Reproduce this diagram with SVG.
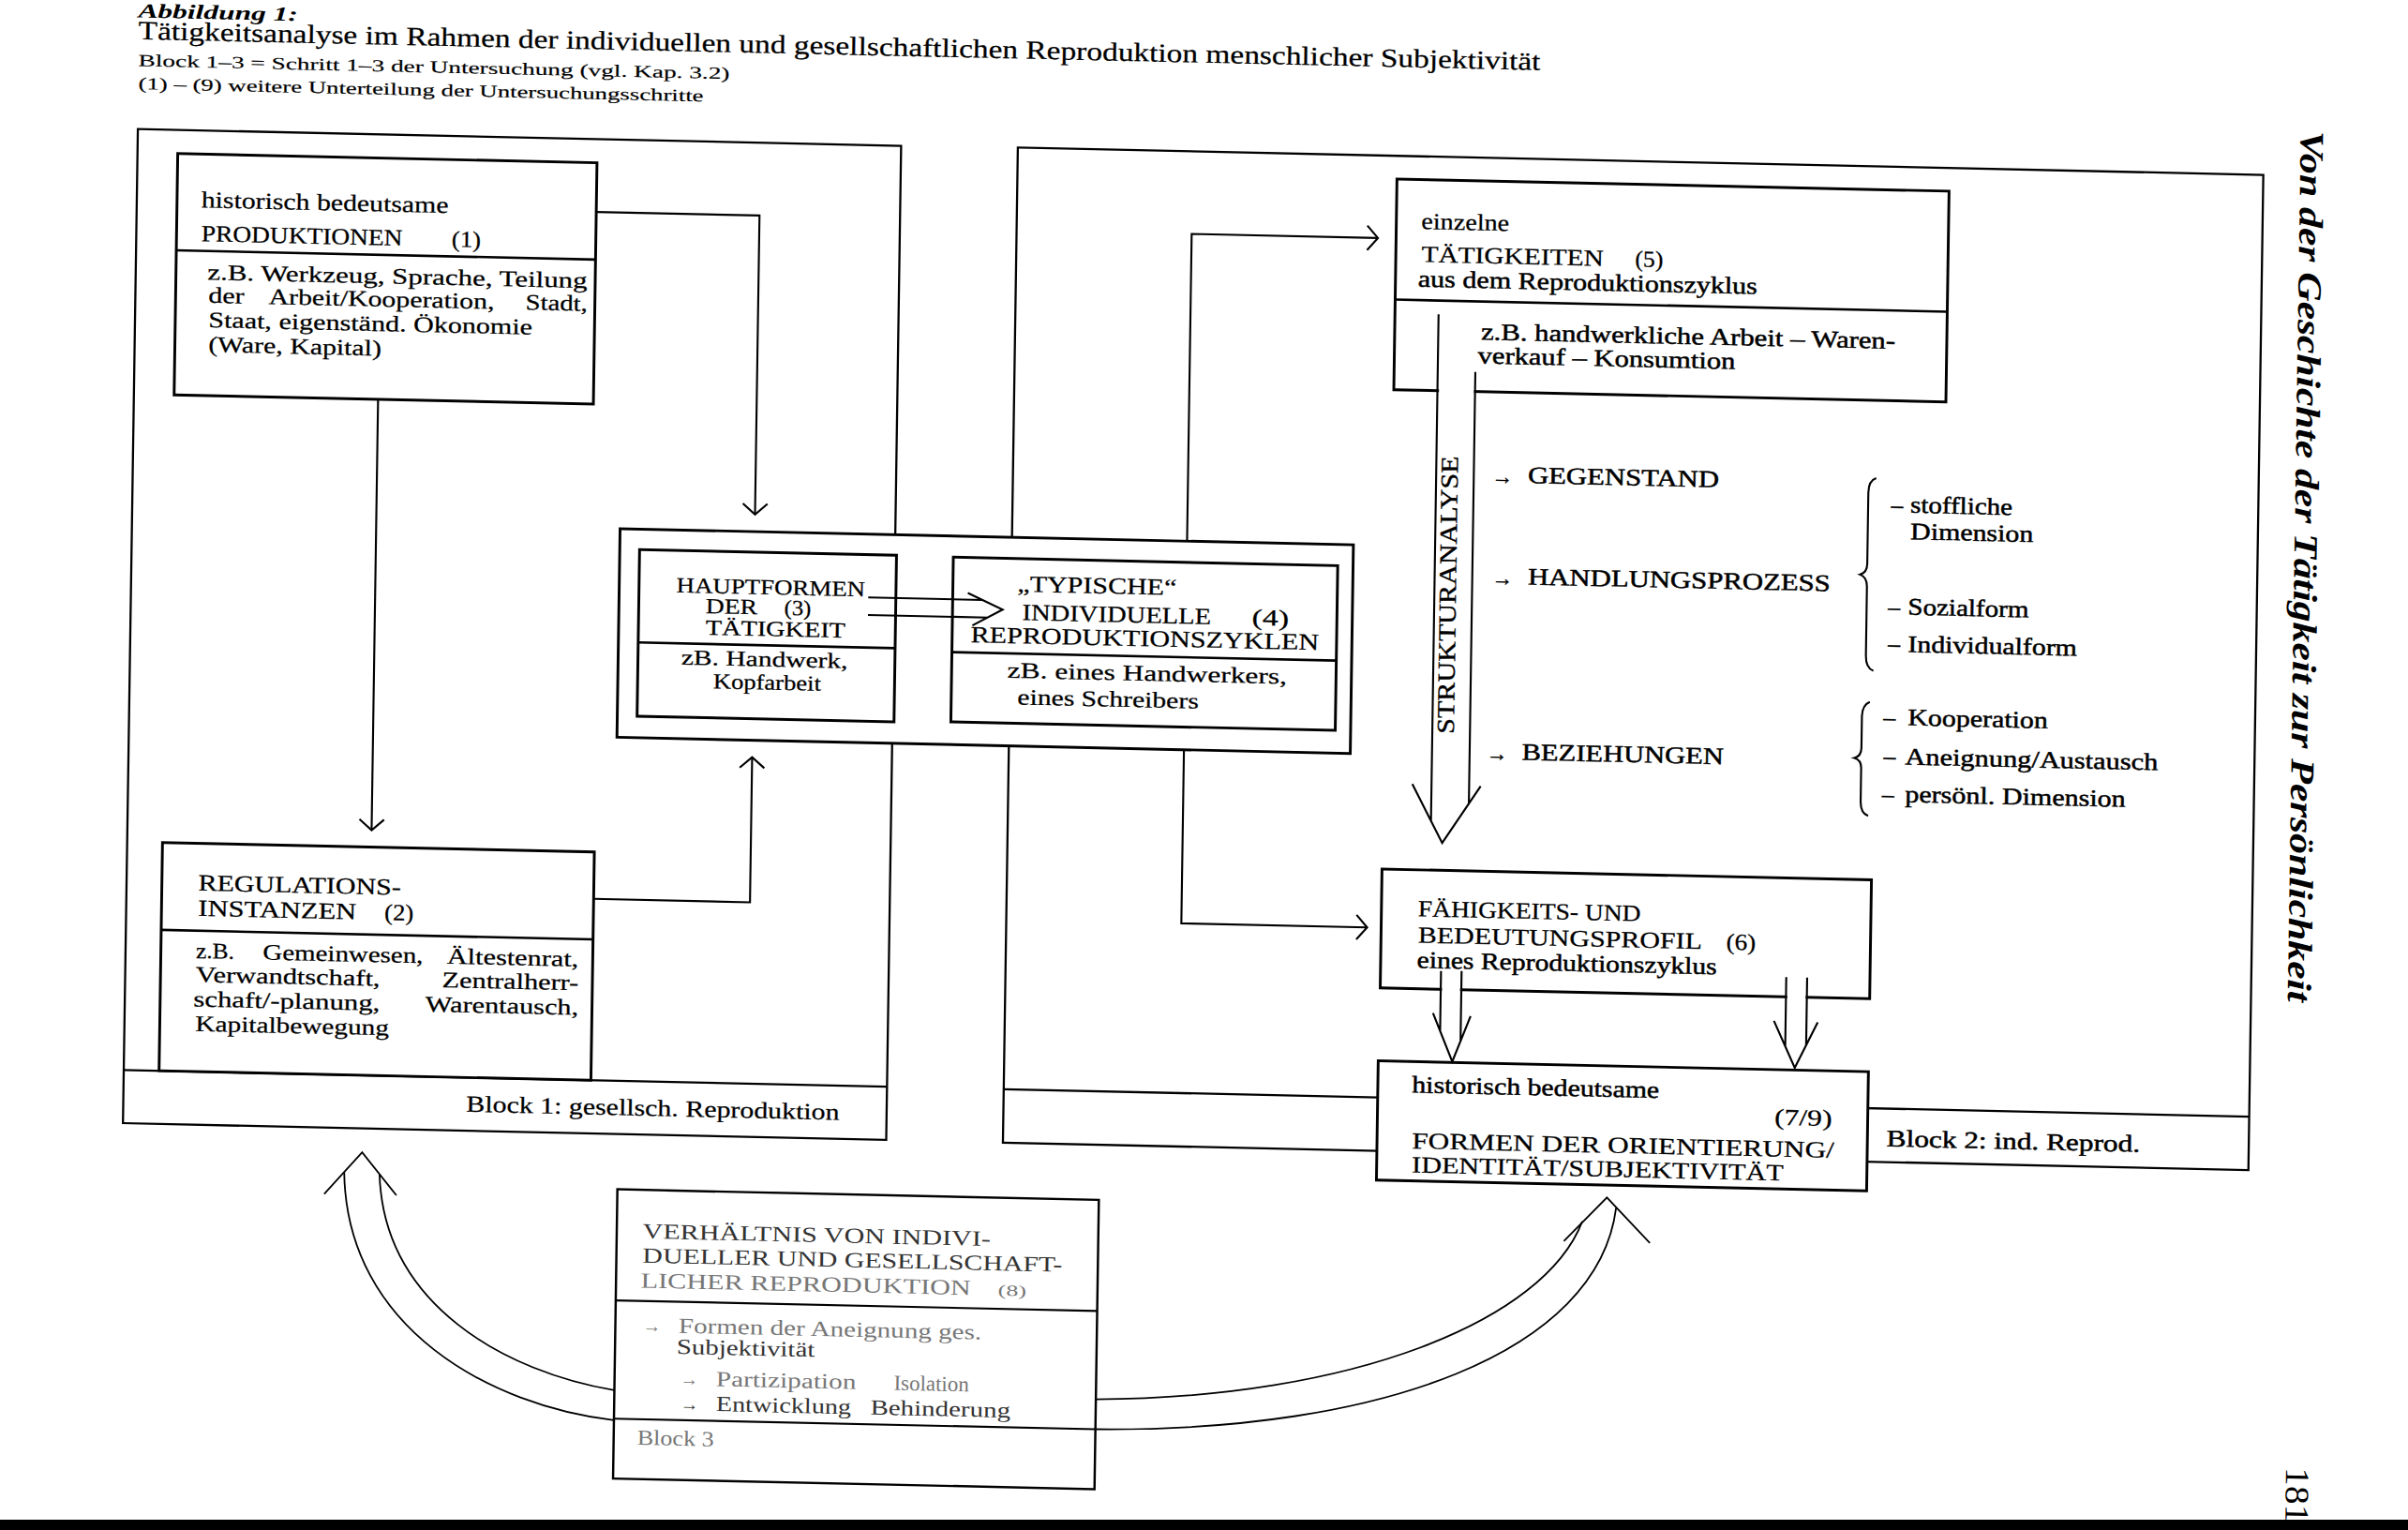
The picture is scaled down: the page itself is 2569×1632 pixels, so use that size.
<svg xmlns="http://www.w3.org/2000/svg" width="2569" height="1632" viewBox="0 0 2569 1632">
<defs>
<style>
text{font-family:"Liberation Serif","Times New Roman",serif;fill:#000}
.box{fill:#fff;stroke:#000;stroke-width:1.8}
.frame{fill:none;stroke:#000;stroke-width:1.4}
.ln{fill:none;stroke:#000;stroke-width:1.6}
.c{fill:none;stroke:#000;stroke-width:1.3}
.thin{fill:none;stroke:#000;stroke-width:1.1}
.mask{fill:#fff;stroke:none}
.h{font-size:15px;stroke:#000;stroke-width:0.15}
.hs{font-size:14px;stroke:#000;stroke-width:0.15}
.s{font-size:14.5px;stroke:#000;stroke-width:0.15}
.r{font-size:15.5px;stroke:#000;stroke-width:0.3}
.ar{font-size:14px;stroke:#000;stroke-width:0.2}
.f{font-size:14px;fill:#333}
.fl{font-size:14px;fill:#777}
.ti{font-size:17px;stroke:#000;stroke-width:0.15}
.sub{font-size:11px;stroke:#000;stroke-width:0.1}
.hd{font-size:22px;font-weight:bold;font-style:italic}
</style>
<marker id="chev" markerUnits="userSpaceOnUse" markerWidth="20" markerHeight="20" viewBox="-10 -10 20 20" refX="0" refY="0" orient="auto">
<path d="M-7,-8 L0,0 L-7,8" fill="none" stroke="#000" stroke-width="1.3"/>
</marker>
</defs>
<rect width="2569" height="1632" fill="#fff"/>
<g transform="scale(1.6384) matrix(1,0.022,-0.015,1,0,0)">

<g id="title">
<text x="90.1" y="9.3" style="font-size:13px;font-weight:bold;font-style:italic" textLength="104" lengthAdjust="spacingAndGlyphs">Abbildung 1:</text>
<text class="ti" x="90.4" y="23.5" textLength="913" lengthAdjust="spacingAndGlyphs">Tätigkeitsanalyse im Rahmen der individuellen und gesellschaftlichen Reproduktion menschlicher Subjektivität</text>
<text class="sub" x="90.7" y="41" textLength="385" lengthAdjust="spacingAndGlyphs">Block 1–3 = Schritt 1–3 der Untersuchung (vgl. Kap. 3.2)</text>
<text class="sub" x="90.9" y="56" textLength="368" lengthAdjust="spacingAndGlyphs">(1) – (9) weitere Unterteilung der Untersuchungsschritte</text>
</g>

<g id="block1">
<rect class="frame" x="91" y="82" width="497" height="647.2"/>
<line class="frame" x1="91" y1="694.6" x2="588" y2="694.6"/>
<text class="h" x="314.3" y="716.8" textLength="243" lengthAdjust="spacingAndGlyphs">Block 1: gesellsch. Reproduktion</text>
</g>

<g id="block2">
<rect class="frame" x="664" y="81.4" width="811" height="647.9"/>
<line class="frame" x1="664" y1="694.5" x2="1475" y2="694.5"/>
<text class="r" x="1239.2" y="719" textLength="165" lengthAdjust="spacingAndGlyphs">Block 2: ind. Reprod.</text>
</g>

<g id="produktionen">
<rect class="box" x="117.2" y="97.4" width="273" height="157.1"/>
<line class="ln" x1="117.2" y1="160.4" x2="390.2" y2="160.4"/>
<text class="h" x="133" y="132.1" textLength="161" lengthAdjust="spacingAndGlyphs">historisch bedeutsame</text>
<text class="h" x="133.4" y="154.1" textLength="131" lengthAdjust="spacingAndGlyphs">PRODUKTIONEN</text>
<text class="h" x="296.4" y="154.1" textLength="19" lengthAdjust="spacingAndGlyphs">(1)</text>
<text class="s" x="137.7" y="179" textLength="247.4" lengthAdjust="spacingAndGlyphs">z.B. Werkzeug, Sprache, Teilung</text>
<text class="s" x="138.5" y="194" textLength="23.4" lengthAdjust="spacingAndGlyphs">der</text>
<text class="s" x="177.8" y="194" textLength="147" lengthAdjust="spacingAndGlyphs">Arbeit/Kooperation,</text>
<text class="s" x="345" y="194" textLength="40.4" lengthAdjust="spacingAndGlyphs">Stadt,</text>
<text class="s" x="138.8" y="210" textLength="211" lengthAdjust="spacingAndGlyphs">Staat, eigenständ. Ökonomie</text>
<text class="s" x="139" y="226" textLength="112.7" lengthAdjust="spacingAndGlyphs">(Ware, Kapital)</text>
</g>

<g id="regulationsinstanzen">
<rect class="box" x="114" y="546" width="281.2" height="148.6"/>
<line class="ln" x1="114" y1="602.9" x2="395.2" y2="602.9"/>
<text class="h" x="137.7" y="576.7" textLength="132" lengthAdjust="spacingAndGlyphs">REGULATIONS-</text>
<text class="h" x="137.9" y="593.2" textLength="103" lengthAdjust="spacingAndGlyphs">INSTANZEN</text>
<text class="h" x="259.2" y="593.2" textLength="19" lengthAdjust="spacingAndGlyphs">(2)</text>
<text class="s" x="136.8" y="620.7" textLength="25" lengthAdjust="spacingAndGlyphs">z.B.</text>
<text class="s" x="180.4" y="620.7" textLength="104.4" lengthAdjust="spacingAndGlyphs">Gemeinwesen,</text>
<text class="s" x="300.3" y="620.7" textLength="85.7" lengthAdjust="spacingAndGlyphs">Ältestenrat,</text>
<text class="s" x="137" y="636.2" textLength="120" lengthAdjust="spacingAndGlyphs">Verwandtschaft,</text>
<text class="s" x="297.4" y="636.2" textLength="88.8" lengthAdjust="spacingAndGlyphs">Zentralherr-</text>
<text class="s" x="135.7" y="652.2" textLength="121.4" lengthAdjust="spacingAndGlyphs">schaft/-planung,</text>
<text class="s" x="286.8" y="652.2" textLength="99.6" lengthAdjust="spacingAndGlyphs">Warentausch,</text>
<text class="s" x="137.2" y="668.2" textLength="126" lengthAdjust="spacingAndGlyphs">Kapitalbewegung</text>
</g>

<g id="zentrum">
<rect class="box" x="408.8" y="335.2" width="477.5" height="135.8"/>
</g>

<g id="hauptformen">
<rect class="box" x="421.7" y="348.5" width="167.3" height="108.5"/>
<line class="ln" x1="421.7" y1="409" x2="589" y2="409"/>
<text class="hs" x="446" y="375.8" textLength="123" lengthAdjust="spacingAndGlyphs">HAUPTFORMEN</text>
<text class="hs" x="465.3" y="388.9" textLength="33.6" lengthAdjust="spacingAndGlyphs">DER</text>
<text class="hs" x="516.4" y="388.9" textLength="17.6" lengthAdjust="spacingAndGlyphs">(3)</text>
<text class="hs" x="465.5" y="402.9" textLength="91" lengthAdjust="spacingAndGlyphs">TÄTIGKEIT</text>
<text class="hs" x="449.9" y="422.7" textLength="108.5" lengthAdjust="spacingAndGlyphs">zB. Handwerk,</text>
<text class="hs" x="470.9" y="437.8" textLength="70.2" lengthAdjust="spacingAndGlyphs">Kopfarbeit</text>
</g>

<g id="typische-zyklen">
<rect class="box" x="626" y="349" width="250.3" height="107.2"/>
<line class="ln" x1="626" y1="410.8" x2="876.3" y2="410.8"/>
<text class="h" x="668" y="370.4" textLength="103.7" lengthAdjust="spacingAndGlyphs">„TYPISCHE“</text>
<text class="h" x="671.4" y="388.9" textLength="123" lengthAdjust="spacingAndGlyphs">INDIVIDUELLE</text>
<text class="h" x="821" y="388.9" textLength="24" lengthAdjust="spacingAndGlyphs">(4)</text>
<text class="h" x="638.1" y="404.1" textLength="226.7" lengthAdjust="spacingAndGlyphs">REPRODUKTIONSZYKLEN</text>
<text class="s" x="662.3" y="426.6" textLength="182" lengthAdjust="spacingAndGlyphs">zB. eines Handwerkers,</text>
<text class="s" x="669.1" y="443.9" textLength="118" lengthAdjust="spacingAndGlyphs">eines Schreibers</text>
</g>

<g id="taetigkeiten">
<rect class="box" x="911.1" y="96.5" width="359.5" height="137.2"/>
<line class="ln" x1="911.1" y1="175" x2="1270.6" y2="175"/>
<text class="h" x="927.4" y="128.6" textLength="57.2" lengthAdjust="spacingAndGlyphs">einzelne</text>
<text class="h" x="927.8" y="150.1" textLength="118.6" lengthAdjust="spacingAndGlyphs">TÄTIGKEITEN</text>
<text class="h" x="1066.8" y="150.1" textLength="18.4" lengthAdjust="spacingAndGlyphs">(5)</text>
<text class="r" x="925.8" y="166.2" textLength="221" lengthAdjust="spacingAndGlyphs">aus dem Reproduktionszyklus</text>
<text class="r" x="967.3" y="199.8" textLength="269.8" lengthAdjust="spacingAndGlyphs">z.B. handwerkliche Arbeit – Waren-</text>
<text class="r" x="965.5" y="215.3" textLength="167.7" lengthAdjust="spacingAndGlyphs">verkauf – Konsumtion</text>
</g>

<g id="strukturmerkmale">
<text class="ar" x="975.6" y="293.5">→</text>
<text class="r" x="999.2" y="292.5" textLength="124.5" lengthAdjust="spacingAndGlyphs">GEGENSTAND</text>
<text class="ar" x="976.6" y="359.5">→</text>
<text class="r" x="1000.2" y="358.5" textLength="197" lengthAdjust="spacingAndGlyphs">HANDLUNGSPROZESS</text>
<text class="ar" x="974.8" y="473.7">→</text>
<text class="r" x="998" y="472.7" textLength="131.4" lengthAdjust="spacingAndGlyphs">BEZIEHUNGEN</text>
<path class="c" d="M1226,284.3 Q1221,286 1221,294 L1221,340 Q1221,346 1216.5,347.3 Q1221,349 1221,355 L1221,400 Q1221,408 1226,409.8"/>
<path class="c" d="M1224,430 Q1219,432 1219,440 L1219,460 Q1219,465.5 1214.5,466.7 Q1219,468 1219,473 L1219,495 Q1219,502.5 1224,504.3"/>
<text class="r" x="1236" y="306.6">–</text>
<text class="r" x="1248.5" y="306.3" textLength="66.5" lengthAdjust="spacingAndGlyphs">stoffliche</text>
<text class="r" x="1248.8" y="323.6" textLength="80" lengthAdjust="spacingAndGlyphs">Dimension</text>
<text class="r" x="1235" y="373">–</text>
<text class="r" x="1247.8" y="372.7" textLength="78.8" lengthAdjust="spacingAndGlyphs">Sozialform</text>
<text class="r" x="1235.4" y="397">–</text>
<text class="r" x="1248.2" y="397" textLength="110.2" lengthAdjust="spacingAndGlyphs">Individualform</text>
<text class="r" x="1233" y="445">–</text>
<text class="r" x="1248.9" y="444.7" textLength="91.2" lengthAdjust="spacingAndGlyphs">Kooperation</text>
<text class="r" x="1233.5" y="470.3">–</text>
<text class="r" x="1247.5" y="470.3" textLength="164.7" lengthAdjust="spacingAndGlyphs">Aneignung/Austausch</text>
<text class="r" x="1232.8" y="495">–</text>
<text class="r" x="1247.8" y="494.7" textLength="143.7" lengthAdjust="spacingAndGlyphs">persönl. Dimension</text>
</g>

<g id="faehigkeitsprofil">
<rect class="box" x="908.1" y="545.8" width="318.7" height="77.4"/>
<text class="h" x="932" y="576" textLength="145" lengthAdjust="spacingAndGlyphs">FÄHIGKEITS- UND</text>
<text class="h" x="932.2" y="593.2" textLength="185" lengthAdjust="spacingAndGlyphs">BEDEUTUNGSPROFIL</text>
<text class="h" x="1132.8" y="593.2" textLength="19.4" lengthAdjust="spacingAndGlyphs">(6)</text>
<text class="r" x="931.7" y="609.5" textLength="195.4" lengthAdjust="spacingAndGlyphs">eines Reproduktionszyklus</text>
</g>

<g id="orientierungsformen">
<rect class="box" x="907.5" y="670.7" width="319.2" height="77.6"/>
<text class="r" x="929.7" y="690.8" textLength="161" lengthAdjust="spacingAndGlyphs">historisch bedeutsame</text>
<text class="h" x="1166" y="706.6" textLength="37.5" lengthAdjust="spacingAndGlyphs">(7/9)</text>
<text class="h" x="930.2" y="727.2" textLength="275" lengthAdjust="spacingAndGlyphs">FORMEN DER ORIENTIERUNG/</text>
<text class="h" x="930.4" y="742.8" textLength="242" lengthAdjust="spacingAndGlyphs">IDENTITÄT/SUBJEKTIVITÄT</text>
</g>

<g id="block3">
<rect class="box" x="413.5" y="765.2" width="313.5" height="188.3" style="stroke-width:1.5"/>
<line class="c" x1="413.5" y1="837.5" x2="727" y2="837.5"/>
<line class="c" x1="413.5" y1="914.5" x2="727" y2="914.5"/>
<text class="f" x="430.3" y="796.7" textLength="226.7" lengthAdjust="spacingAndGlyphs">VERHÄLTNIS VON INDIVI-</text>
<text class="f" x="430.5" y="812.5" textLength="273.4" lengthAdjust="spacingAndGlyphs">DUELLER UND GESELLSCHAFT-</text>
<text class="fl" x="429.6" y="828.8" textLength="215" lengthAdjust="spacingAndGlyphs">LICHER REPRODUKTION</text>
<text class="fl" x="662.2" y="828.8" style="font-size:10px" textLength="18.6" lengthAdjust="spacingAndGlyphs">(8)</text>
<text class="fl" x="431.2" y="857.7" style="font-size:12px">→</text>
<text class="fl" x="454.6" y="857.7" textLength="197.4" lengthAdjust="spacingAndGlyphs">Formen der Aneignung ges.</text>
<text class="f" x="453.6" y="871.4" textLength="90" lengthAdjust="spacingAndGlyphs">Subjektivität</text>
<text class="fl" x="456.1" y="891.8" style="font-size:12px">→</text>
<text class="fl" x="479.5" y="891.8" textLength="91.3" lengthAdjust="spacingAndGlyphs">Partizipation</text>
<text class="fl" x="595.3" y="891.8" textLength="49" lengthAdjust="spacingAndGlyphs">Isolation</text>
<text class="f" x="456.4" y="908.1" style="font-size:12px">→</text>
<text class="f" x="479.8" y="908.1" textLength="88" lengthAdjust="spacingAndGlyphs">Entwicklung</text>
<text class="f" x="580.3" y="908.1" textLength="91.2" lengthAdjust="spacingAndGlyphs">Behinderung</text>
<text class="fl" x="428.8" y="931.1" textLength="50" lengthAdjust="spacingAndGlyphs">Block 3</text>
</g>

<g id="kolumne">
<text class="hd" transform="translate(1499,52.2) rotate(90)" x="0" y="0" textLength="567" lengthAdjust="spacingAndGlyphs">Von der Geschichte der Tätigkeit zur Persönlichkeit</text>
<text transform="translate(1502.5,922.2) rotate(90)" x="0" y="0" style="font-size:22px" textLength="36" lengthAdjust="spacingAndGlyphs">181</text>
</g>

<g id="connectors">
<path class="c" d="M390.2,129.4 H496.5 V324" marker-end="url(#chev)"/>
<path class="c" d="M250,254.5 V535" marker-end="url(#chev)"/>
<path class="c" d="M395.2,576.5 H497 V482" marker-end="url(#chev)"/>
<path class="c" d="M778,335.2 V135.2 H899.3" marker-end="url(#chev)"/>
<path class="c" d="M778,471 V584 H899" marker-end="url(#chev)"/>
<path class="c" d="M571,376.4 H645.3 M571,387.8 H648.8 M635.8,372.1 L658.6,382.4 L639.1,393.1"/>
<rect class="mask" x="940.5" y="229" width="22.8" height="9"/>
<path class="c" d="M939.5,184 V513.7 M964,221 V502 M927,490 L947,528 L971.5,490.5"/>
<text transform="translate(953.5,366.5) rotate(-90)" x="0" y="0" text-anchor="middle" style="font-size:16px;stroke:#000;stroke-width:0.2" textLength="181" lengthAdjust="spacingAndGlyphs">STRUKTURANALYSE</text>
<rect class="mask" x="948.3" y="619.5" width="11.8" height="7"/>
<rect class="mask" x="1173.1" y="619.5" width="12" height="7"/>
<path class="c" d="M947.5,611.3 V650.4 M960.9,611 V656.6 M942.7,638.8 L955.7,670.1 L967.2,640.3"/>
<path class="c" d="M1172.3,610.4 V655.4 M1185.9,610.4 V654.4 M1164.7,639 L1178.7,669.2 L1193.2,639.4"/>
<path class="thin" d="M235.5,758 C238.5,860 333.7,908 413.5,915.5"/>
<path class="thin" d="M258.5,758.7 C262.5,844.5 343.4,885.7 413.5,896"/>
<path class="thin" d="M222.7,772.4 L247,744.8 L269.7,772.3"/>
<path class="thin" d="M727,895 C893.7,890.6 1017.9,837.9 1041.9,772.3"/>
<path class="thin" d="M727,914.5 C914,912.2 1053.2,857.1 1063.8,763"/>
<path class="thin" d="M1030.1,785.3 L1057.7,756.4 L1086.1,785.4"/>
</g>

</g>
<rect x="0" y="1621" width="2569" height="11" fill="#000"/>
</svg>
